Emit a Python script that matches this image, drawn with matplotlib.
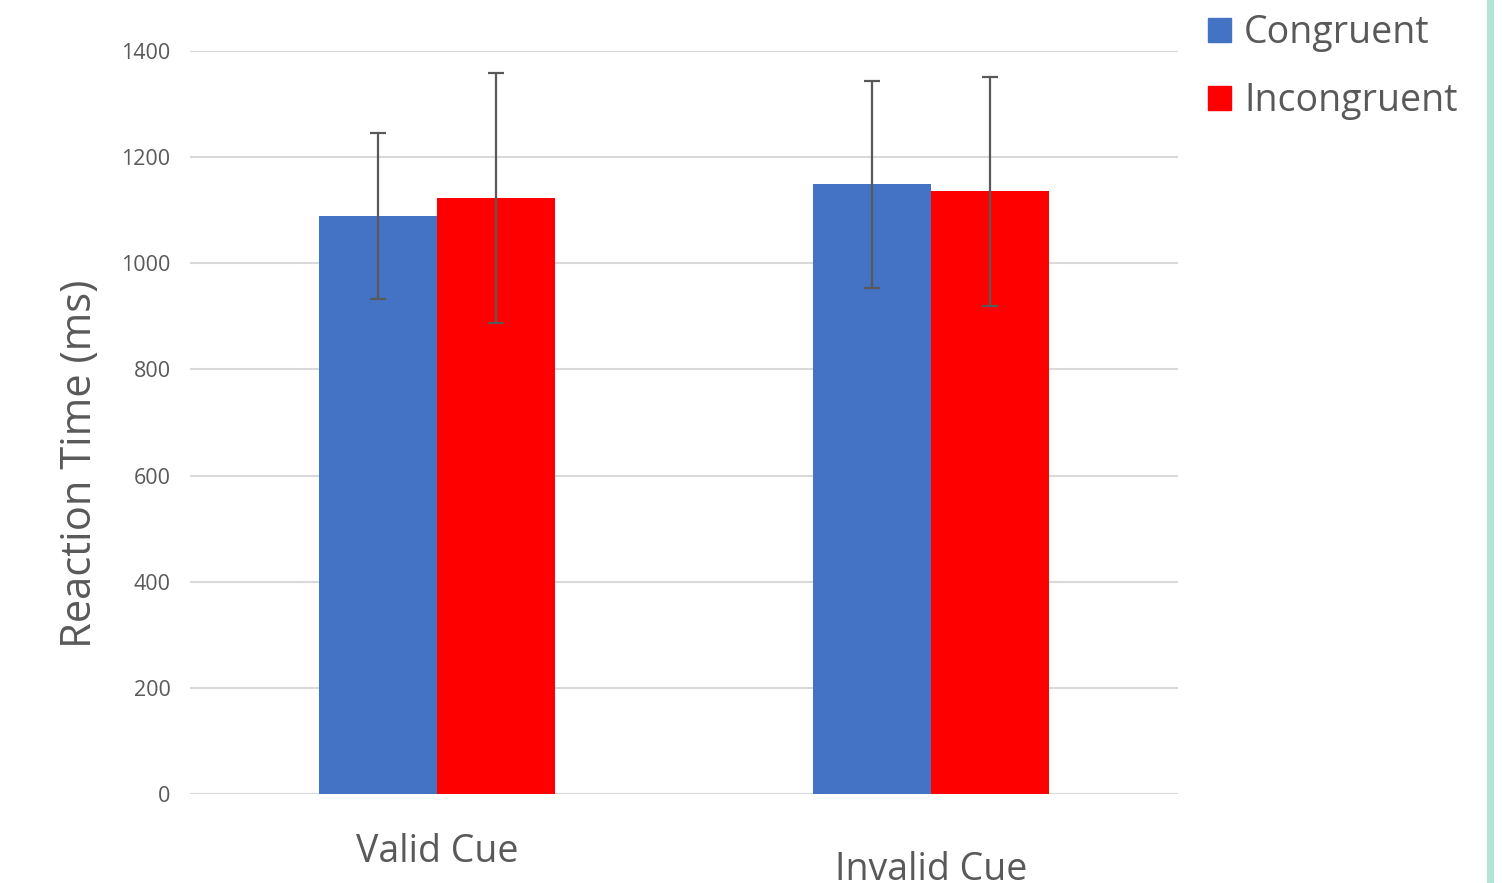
import matplotlib.pyplot as plt
import matplotlib.patches as mpatches
import matplotlib.transforms as mtransforms
import numpy as np

plt.rcParams['font.family'] = ['Open Sans', 'DejaVu Sans']

# Data
cues = ['Valid Cue', 'Invalid Cue']
congruent = [1089, 1149]
incongruent = [1123, 1136]
congruent_err = [157, 195]
incongruent_err = [236, 216]

text_col = '#595959'
blue = '#4472c4'
red = '#ff0000'

fig = plt.figure(figsize=(15.02, 8.83), dpi=100)
ax = fig.add_axes([0.1265, 0.1008, 0.6578, 0.8414])

x = np.arange(len(cues))
w = 0.239
ax.bar(x - w/2, congruent, w, color=blue, zorder=2)
ax.bar(x + w/2, incongruent, w, color=red, zorder=2)
ax.errorbar(x - w/2, congruent, yerr=congruent_err, fmt='none', ecolor=text_col,
            elinewidth=1.6, capsize=6, capthick=1.6, zorder=3)
ax.errorbar(x + w/2, incongruent, yerr=incongruent_err, fmt='none', ecolor=text_col,
            elinewidth=1.6, capsize=6, capthick=1.6, zorder=3)

ax.set_xlim(-0.5, 1.5)
ax.set_ylim(0, 1400)
ax.set_yticks(np.arange(0, 1401, 200))
ax.yaxis.grid(True, color='#d9d9d9', linewidth=1.5, zorder=0)
ax.set_axisbelow(True)
for s in ax.spines.values():
    s.set_visible(False)
ax.tick_params(axis='y', length=0, pad=14, labelsize=15.5, labelcolor=text_col)
ax.set_xticks([])

# category labels (the second one sits lower in the original)
trans = mtransforms.blended_transform_factory(ax.transData, ax.transAxes)
offsets = [-0.078, -0.102]
for xi, lab, off in zip(x, cues, offsets):
    ax.text(xi, off, lab, transform=trans, ha='center', va='center',
            fontsize=27, color=text_col)

ax.set_ylabel('Reaction Time (ms)', fontsize=30, color=text_col)
ax.yaxis.set_label_coords(-0.111, 0.444)
ax.yaxis.label.set_verticalalignment('center')

handles = [mpatches.Patch(color=blue, label='Congruent'),
           mpatches.Patch(color=red, label='Incongruent')]
fig.legend(handles=handles, loc='upper left', bbox_to_anchor=(0.782, 1.022),
           frameon=False, fontsize=27, labelcolor=text_col, handlelength=0.6,
           handleheight=0.6, handletextpad=0.35, labelspacing=0.8)

# teal border line at the right edge
fig.add_artist(plt.Line2D([0.9923, 0.9923], [0, 1], color='#b2e4d8',
                          linewidth=5, transform=fig.transFigure))

fig.savefig('out.png', dpi=100)
